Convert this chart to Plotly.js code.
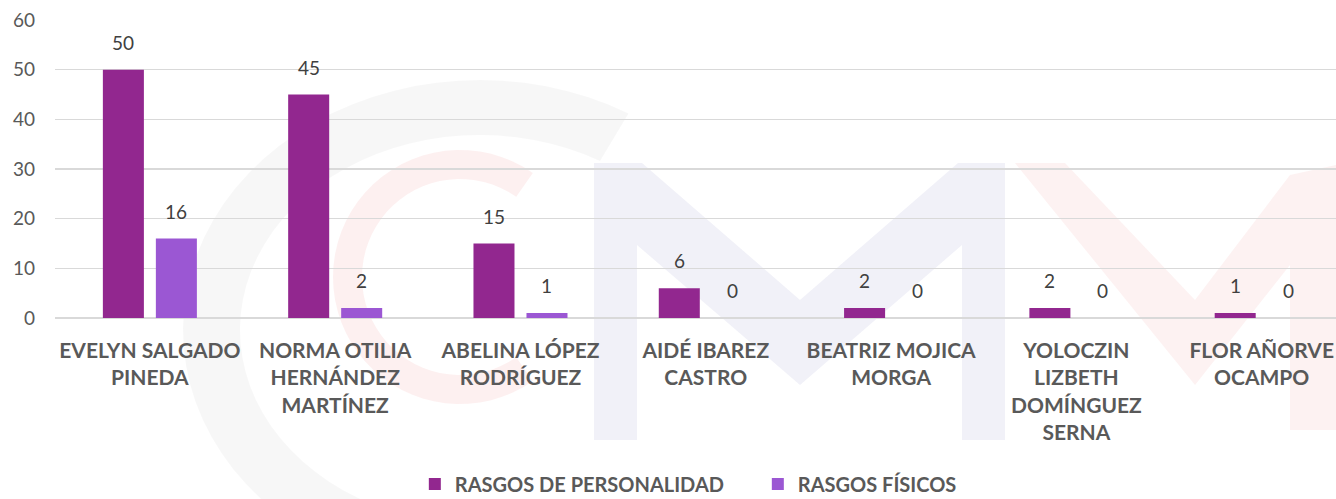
<!DOCTYPE html>
<html><head><meta charset="utf-8">
<script src="https://cdn.plot.ly/plotly-3.0.1.min.js"></script>
<style>html,body{margin:0;padding:0;background:#fff}#chart{width:1336px;height:499px}</style>
</head><body><div id="chart"></div>
<script>
const categories = ["EVELYN SALGADO<br>PINEDA","NORMA OTILIA<br>HERNÁNDEZ<br>MARTÍNEZ","ABELINA LÓPEZ<br>RODRÍGUEZ","AIDÉ IBAREZ<br>CASTRO","BEATRIZ MOJICA<br>MORGA","YOLOCZIN<br>LIZBETH<br>DOMÍNGUEZ<br>SERNA","FLOR AÑORVE<br>OCAMPO"];
const personalidad = [50,45,15,6,2,2,1];
const fisicos = [16,2,1,0,0,0,0];
const seriesNames = ["RASGOS DE PERSONALIDAD","RASGOS FÍSICOS"];
const colors = ["#92278F","#9B57D3"];
const idx = categories.map((c,i)=>i);

const traces = [personalidad, fisicos].map((vals,k)=>({
  type:'bar', x: idx, y: vals, name: seriesNames[k],
  marker:{color: colors[k]}, hoverinfo:'none'
}));

const offs = [-0.143, 0.143];
const annotations = [];
[personalidad, fisicos].forEach((vals,k)=>{
  vals.forEach((v,i)=>{
    annotations.push({x: i+offs[k], y: v, xref:'x', yref:'y', text: String(v), showarrow:false,
      yanchor:'bottom', yshift: 14, font:{size:19, color:'#404040', family:'Lato, sans-serif'}});
  });
});

// faint background logo (decoration), pixel -> paper helpers
const L=55, T=20, W=1281, H=298;
const px = x => (x-L)/W, py = y => (T+H-y)/H;
function poly(pts){ return 'M'+pts.map(p=>px(p[0]).toFixed(5)+','+py(p[1]).toFixed(5)).join('L')+'Z'; }
function ring(cx,cy,rxo,ryo,rxi,ryi,a0,a1){
  const pts=[]; const n=48;
  for(let i=0;i<=n;i++){const a=(a0+(a1-a0)*i/n)*Math.PI/180; pts.push([cx+rxo*Math.cos(a), cy-ryo*Math.sin(a)]);}
  for(let i=n;i>=0;i--){const a=(a0+(a1-a0)*i/n)*Math.PI/180; pts.push([cx+rxi*Math.cos(a), cy-ryi*Math.sin(a)]);}
  return poly(pts);
}
const deco = (path, fill) => ({type:'path', xref:'paper', yref:'paper', layer:'below', line:{width:0}, fillcolor:fill, path});
const shapes = [
  deco(ring(480,330,297,250,240,195,60,265), 'rgba(0,0,0,0.03)'),
  deco(ring(460,277,127,127,98,98,55,305), 'rgba(225,70,70,0.08)'),
  deco(poly([[594,440],[594,163],[642,163],[800,300],[958,163],[1005,163],[1005,440],[962,440],[962,245],[800,385],[637,245],[637,440]]), 'rgba(60,60,160,0.07)'),
  deco(poly([[1015,163],[1065,163],[1195,300],[1290,175],[1336,165],[1336,430],[1290,430],[1290,265],[1195,385]]), 'rgba(225,70,70,0.07)')
];

const layout = {
  width:1336, height:499,
  margin:{l:55, r:0, t:20, b:181, autoexpand:false},
  paper_bgcolor:'#fff', plot_bgcolor:'rgba(0,0,0,0)',
  font:{family:'Lato, sans-serif', color:'#595959'},
  barmode:'group', bargap:0.428, bargroupgap:0.226,
  showlegend:true,
  legend:{orientation:'h', x:0.3105, xanchor:'left', xref:'container', yref:'container', y:0.03, yanchor:'middle',
    font:{size:20, color:'#595959', family:'Lato, sans-serif', weight:'bold'}, itemwidth:30, entrywidth:298,
    traceorder:'normal', bgcolor:'rgba(0,0,0,0)'},
  xaxis:{type:'linear', range:[-0.512, 6.401], tickmode:'array', tickvals: idx, ticktext: categories.map(c=>'<b>'+c+'</b>'),
    tickfont:{size:21, color:'#595959'}, showgrid:false, zeroline:false, showline:false, ticks:'', ticklen:0,
    ticklabelstandoff:18, automargin:false},
  yaxis:{range:[0,60], dtick:10, tickfont:{size:19, color:'#595959'}, gridcolor:'#d9d9d9', gridwidth:1.5,
    zeroline:true, zerolinecolor:'#d9d9d9', zerolinewidth:1.5, showline:false, ticks:'', ticklabelstandoff:19, automargin:false},
  annotations: annotations,
  shapes: shapes
};
Plotly.newPlot('chart', traces, layout, {displayModeBar:false, staticPlot:true});
</script></body></html>
